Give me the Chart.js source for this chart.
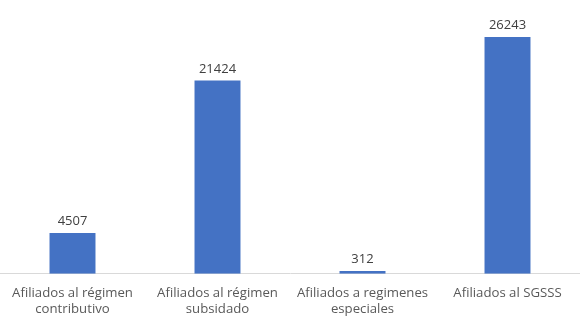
<!DOCTYPE html>
<html>
<head>
<meta charset="utf-8">
<script src="https://cdn.jsdelivr.net/npm/chart.js@4"></script>
<style>
  html, body { margin: 0; padding: 0; background: #fff; }
  #wrap { width: 580px; height: 320px; }
</style>
</head>
<body>
<div id="wrap"><canvas id="chart"></canvas></div>
<script>
// afiliados por régimen
const categories = [
  ["Afiliados al régimen", "contributivo"],
  ["Afiliados al régimen", "subsidado"],
  ["Afiliados a regimenes", "especiales"],
  ["Afiliados al SGSSS"],
];
const afiliados = [4507, 21424, 312, 26243];
const yMax = 30000;

const FONT = "'Open Sans', sans-serif";

// value labels above each bar
const barLabels = {
  id: "barLabels",
  afterDatasetsDraw(chart) {
    const ctx = chart.ctx;
    const meta = chart.getDatasetMeta(0);
    ctx.save();
    ctx.font = "13px " + FONT;
    ctx.fillStyle = "#404040";
    ctx.textAlign = "center";
    ctx.textBaseline = "bottom";
    meta.data.forEach((bar, i) => {
      ctx.fillText(String(chart.data.datasets[0].data[i]), bar.x, bar.y - 5);
    });
    ctx.restore();
  },
};

new Chart(document.getElementById("chart"), {
  type: "bar",
  data: {
    labels: categories,
    datasets: [{
      data: afiliados,
      backgroundColor: "#4472C4",
      borderWidth: 0,
      barPercentage: 1,
      categoryPercentage: 0.317,
    }],
  },
  options: {
    responsive: true,
    maintainAspectRatio: false,
    animation: false,
    layout: { padding: { top: 3, left: 0, right: 0, bottom: -8 } },
    plugins: { legend: { display: false }, tooltip: { enabled: false } },
    scales: {
      y: { display: false, min: 0, max: yMax },
      x: {
        grid: { display: false, drawTicks: false, tickLength: 0 },
        border: { display: true, color: "#d9d9d9", width: 1 },
        ticks: {
          color: "#595959",
          font: { family: FONT, size: 13.2, lineHeight: 1.22 },
          padding: 11,
          maxRotation: 0,
          autoSkip: false,
        },
      },
    },
  },
  plugins: [barLabels],
});
</script>
</body>
</html>
